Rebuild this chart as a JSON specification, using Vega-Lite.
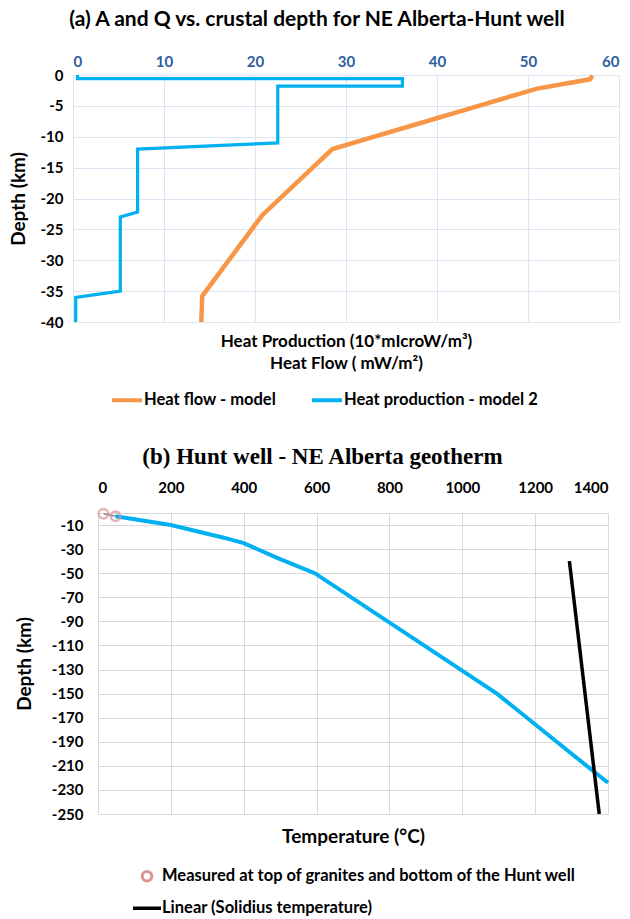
{
  "$schema": "https://vega.github.io/schema/vega-lite/v6.json",
  "padding": {"left": 8, "top": 8, "right": 1, "bottom": 2},
  "background": "white",
  "config": {
    "font": "Lato",
    "axis": {"labelFont": "Lato", "titleFont": "Lato", "labelFontWeight": "bold", "titleFontWeight": "bold", "labelFontSize": 15, "titleFontSize": 19, "titleColor": "black", "labelColor": "black", "ticks": false, "domain": false},
    "legend": {"labelFont": "Lato", "labelFontSize": 16.5, "labelFontWeight": "bold", "labelColor": "black", "padding": 0, "labelLimit": 600},
    "title": {"font": "Lato", "fontWeight": "bold", "color": "black"}
  },
  "datasets": {
    "flow": [
      {"i": 1, "value": 57.1, "depth": -0.1, "series": "Heat flow - model"},
      {"i": 2, "value": 56.8, "depth": -0.7, "series": "Heat flow - model"},
      {"i": 3, "value": 51.0, "depth": -2.2, "series": "Heat flow - model"},
      {"i": 4, "value": 28.5, "depth": -12.0, "series": "Heat flow - model"},
      {"i": 5, "value": 20.8, "depth": -22.7, "series": "Heat flow - model"},
      {"i": 6, "value": 14.2, "depth": -35.8, "series": "Heat flow - model"},
      {"i": 7, "value": 14.1, "depth": -40, "series": "Heat flow - model"}
    ],
    "prod": [
      {"i": 1, "value": 0.5, "depth": 0, "series": "Heat production - model 2"},
      {"i": 2, "value": 0.5, "depth": -0.6, "series": "Heat production - model 2"},
      {"i": 3, "value": 36.2, "depth": -0.6, "series": "Heat production - model 2"},
      {"i": 4, "value": 36.2, "depth": -1.8, "series": "Heat production - model 2"},
      {"i": 5, "value": 22.5, "depth": -1.8, "series": "Heat production - model 2"},
      {"i": 6, "value": 22.5, "depth": -11, "series": "Heat production - model 2"},
      {"i": 7, "value": 7.1, "depth": -12, "series": "Heat production - model 2"},
      {"i": 8, "value": 7.1, "depth": -22.2, "series": "Heat production - model 2"},
      {"i": 9, "value": 5.2, "depth": -23, "series": "Heat production - model 2"},
      {"i": 10, "value": 5.2, "depth": -35, "series": "Heat production - model 2"},
      {"i": 11, "value": 0.3, "depth": -36, "series": "Heat production - model 2"},
      {"i": 12, "value": 0.3, "depth": -40, "series": "Heat production - model 2"}
    ],
    "geotherm": [
      {"i": 1, "temp": 48, "depth": -2.7},
      {"i": 2, "temp": 200, "depth": -10},
      {"i": 3, "temp": 345, "depth": -20.5},
      {"i": 4, "temp": 400, "depth": -25},
      {"i": 5, "temp": 490, "depth": -37},
      {"i": 6, "temp": 595, "depth": -50},
      {"i": 7, "temp": 845, "depth": -100},
      {"i": 8, "temp": 1095, "depth": -150},
      {"i": 9, "temp": 1300, "depth": -200},
      {"i": 10, "temp": 1400, "depth": -224}
    ],
    "measured": [
      {"i": 1, "temp": 15, "depth": -0.6, "series": "Measured at top of granites and bottom of the Hunt well"},
      {"i": 2, "temp": 48, "depth": -2.7, "series": "Measured at top of granites and bottom of the Hunt well"}
    ],
    "solidus": [
      {"i": 1, "temp": 1294, "depth": -40, "series": "Linear (Solidius temperature)"},
      {"i": 2, "temp": 1376, "depth": -250, "series": "Linear (Solidius temperature)"}
    ]
  },
  "spacing": 36,
  "resolve": {"scale": {"color": "independent"}, "legend": {"color": "independent"}},
  "vconcat": [
    {
      "width": 546,
      "height": 247,
      "title": {"text": "(a) A and Q vs. crustal depth for NE Alberta-Hunt well", "fontSize": 21, "offset": 24, "dx": -29},
      "view": {"stroke": "#DCE6F2"},
      "resolve": {"axis": {"x": "independent"}},
      "layer": [
        {
          "data": {"name": "flow"},
          "mark": {"type": "line", "strokeWidth": 4.5},
          "encoding": {
            "x": {"field": "value", "type": "quantitative", "scale": {"domain": [0, 60], "nice": false},
              "axis": {"orient": "top", "values": [0, 10, 20, 30, 40, 50, 60], "labelColor": "#2E5E9E", "grid": true, "gridColor": "#DCE6F2", "title": null, "labelPadding": 6}},
            "y": {"field": "depth", "type": "quantitative", "scale": {"domain": [-40, 0], "nice": false},
              "axis": {"values": [-40, -35, -30, -25, -20, -15, -10, -5, 0], "labelExpr": "'' + datum.value", "grid": true, "gridColor": "#DCE6F2", "title": "Depth (km)", "labelPadding": 10, "titlePadding": 12}},
            "order": {"field": "i", "type": "quantitative"},
            "color": {"field": "series", "type": "nominal",
              "scale": {"domain": ["Heat flow - model", "Heat production - model 2"], "range": ["#F79646", "#00B0F0"]},
              "legend": {"orient": "none", "legendX": 37, "legendY": 308, "direction": "horizontal", "title": null, "symbolType": "stroke", "symbolSize": 900, "symbolStrokeWidth": 4, "labelOffset": 0, "columnPadding": 27}}
          }
        },
        {
          "data": {"name": "prod"},
          "mark": {"type": "line", "strokeWidth": 3.2},
          "encoding": {
            "x": {"field": "value", "type": "quantitative", "scale": {"domain": [0, 60], "nice": false},
              "axis": {"orient": "bottom", "labels": false, "grid": false, "title": ["Heat Production (10*mIcroW/m³)", "Heat Flow ( mW/m²)"], "titleFontSize": 17, "titleLineHeight": 22, "titlePadding": 11}},
            "y": {"field": "depth", "type": "quantitative", "scale": {"domain": [-40, 0], "nice": false},
              "axis": {"values": [-40, -35, -30, -25, -20, -15, -10, -5, 0], "labelExpr": "'' + datum.value", "grid": true, "gridColor": "#DCE6F2", "title": "Depth (km)", "labelPadding": 10, "titlePadding": 12}},
            "order": {"field": "i", "type": "quantitative"},
            "color": {"field": "series", "type": "nominal",
              "scale": {"domain": ["Heat flow - model", "Heat production - model 2"], "range": ["#F79646", "#00B0F0"]},
              "legend": {"orient": "none", "legendX": 37, "legendY": 308, "direction": "horizontal", "title": null, "symbolType": "stroke", "symbolSize": 900, "symbolStrokeWidth": 4, "labelOffset": 0, "columnPadding": 27}}
          }
        }
      ]
    },
    {
      "width": 535,
      "height": 301,
      "title": {"text": "(b) Hunt well - NE Alberta geotherm", "font": "Liberation Serif", "fontSize": 23, "offset": 11, "dx": -18},
      "view": {"stroke": null},
      "resolve": {"axis": {"x": "independent"}},
      "layer": [
        {
          "encoding": {
            "x": {"field": "temp", "type": "quantitative", "scale": {"domain": [0, 1400], "nice": false, "range": [25, 535]},
              "axis": {"orient": "top", "values": [0, 200, 400, 600, 800, 1000, 1200, 1400], "format": "d", "grid": true, "gridColor": "#D9D9D9", "title": null, "labelPadding": 18}},
            "y": {"field": "depth", "type": "quantitative", "scale": {"domain": [-250, 0], "nice": false},
              "axis": {"offset": -25, "values": [-250, -230, -210, -190, -170, -150, -130, -110, -90, -70, -50, -30, -10, 0], "labelExpr": "datum.value == 0 ? '' : '' + datum.value", "grid": true, "gridColor": "#D9D9D9", "title": "Depth (km)", "labelPadding": 15, "titlePadding": 17}},
            "order": {"field": "i", "type": "quantitative"}
          },
          "layer": [
            {"data": {"name": "geotherm"}, "mark": {"type": "line", "color": "#00B0F0", "strokeWidth": 4}},
            {"data": {"name": "measured"}, "mark": {"type": "line", "color": "#44546A", "strokeWidth": 1}},
            {"data": {"name": "measured"}, "mark": {"type": "point", "filled": false, "strokeWidth": 2.5, "size": 90},
              "encoding": {
                "color": {"field": "series", "type": "nominal",
                  "scale": {"domain": ["Measured at top of granites and bottom of the Hunt well", "Linear (Solidius temperature)"], "range": ["#D99594", "#000000"]},
                  "legend": {"orient": "none", "legendX": 60, "legendY": 355, "direction": "vertical", "title": null, "symbolSize": 784, "symbolStrokeWidth": 3.5, "rowPadding": 13, "labelOffset": 1,
                    "encode": {
                      "labels": {"update": {"x": {"value": 29}}},
                      "symbols": {"update": {
                      "x": {"value": 14},
                      "shape": {"signal": "datum.value === 'Linear (Solidius temperature)' ? 'stroke' : 'circle'"},
                      "size": {"signal": "datum.value === 'Linear (Solidius temperature)' ? 784 : 90"},
                      "fill": {"value": "transparent"},
                      "stroke": {"signal": "datum.value === 'Linear (Solidius temperature)' ? '#000000' : '#D99594'"},
                      "strokeWidth": {"signal": "datum.value === 'Linear (Solidius temperature)' ? 3.5 : 3"}
                    }}}}}
              }
            }
          ]
        },
        {
          "data": {"name": "solidus"},
          "mark": {"type": "line", "strokeWidth": 3.5},
          "encoding": {
            "x": {"field": "temp", "type": "quantitative", "scale": {"domain": [0, 1400], "nice": false, "range": [25, 535]},
              "axis": {"orient": "bottom", "labels": false, "grid": false, "title": "Temperature (°C)", "titleFontSize": 19, "titlePadding": 13}},
            "y": {"field": "depth", "type": "quantitative", "scale": {"domain": [-250, 0], "nice": false},
              "axis": {"offset": -25, "values": [-250, -230, -210, -190, -170, -150, -130, -110, -90, -70, -50, -30, -10, 0], "labelExpr": "datum.value == 0 ? '' : '' + datum.value", "grid": true, "gridColor": "#D9D9D9", "title": "Depth (km)", "labelPadding": 15, "titlePadding": 17}},
            "order": {"field": "i", "type": "quantitative"},
            "color": {"field": "series", "type": "nominal",
              "scale": {"domain": ["Measured at top of granites and bottom of the Hunt well", "Linear (Solidius temperature)"], "range": ["#D99594", "#000000"]},
              "legend": {"orient": "none", "legendX": 60, "legendY": 355, "direction": "vertical", "title": null, "symbolSize": 784, "symbolStrokeWidth": 3.5, "rowPadding": 13, "labelOffset": 1,
                "encode": {
                  "labels": {"update": {"x": {"value": 29}}},
                  "symbols": {"update": {
                  "x": {"value": 14},
                  "shape": {"signal": "datum.value === 'Linear (Solidius temperature)' ? 'stroke' : 'circle'"},
                  "size": {"signal": "datum.value === 'Linear (Solidius temperature)' ? 784 : 90"},
                  "fill": {"value": "transparent"},
                  "stroke": {"signal": "datum.value === 'Linear (Solidius temperature)' ? '#000000' : '#D99594'"},
                  "strokeWidth": {"signal": "datum.value === 'Linear (Solidius temperature)' ? 3.5 : 3"}
                }}}}}
          }
        }
      ]
    }
  ]
}
